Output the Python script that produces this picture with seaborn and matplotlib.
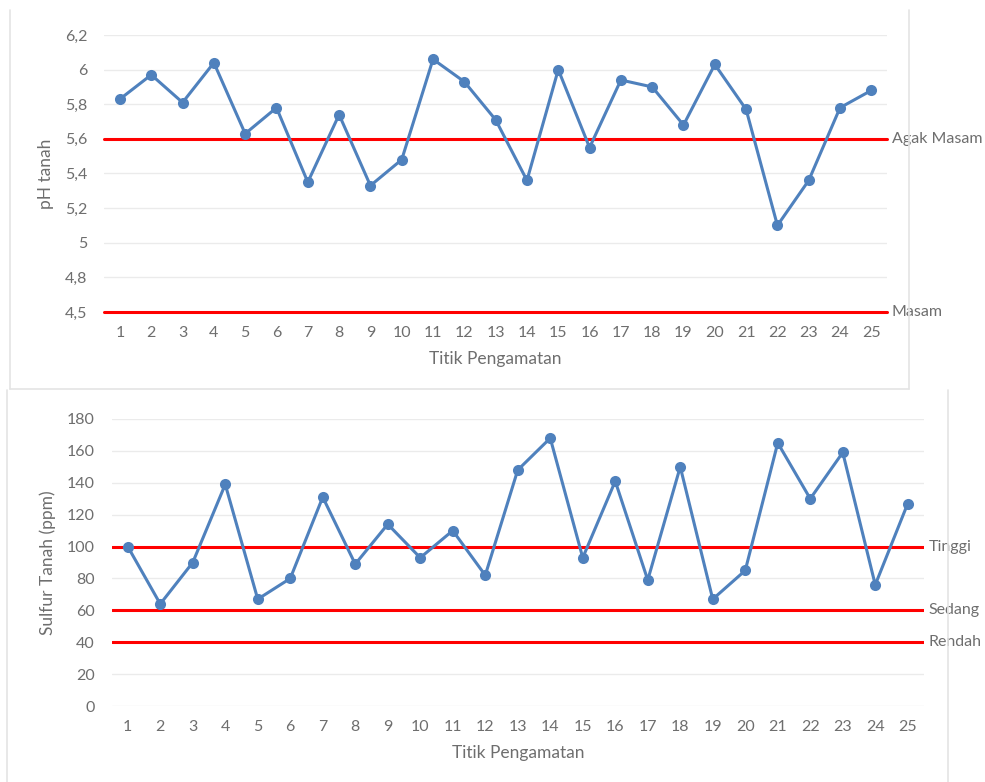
import numpy as np
import pandas as pd
import matplotlib
matplotlib.use("Agg")
import matplotlib.pyplot as plt
import matplotlib.transforms as mtransforms
import seaborn as sns

# Observation points
titik = list(range(1, 26))

# Soil pH per observation point
ph_tanah = [5.83, 5.97, 5.81, 6.04, 5.63, 5.78, 5.35, 5.74, 5.33, 5.48,
            6.06, 5.93, 5.71, 5.36, 6.00, 5.55, 5.94, 5.90, 5.68, 6.03,
            5.77, 5.10, 5.36, 5.78, 5.88]

# Soil sulfur (ppm) per observation point
sulfur_tanah = [100, 64, 90, 139, 67, 80, 131, 89, 114, 93,
                110, 82, 148, 168, 93, 141, 79, 150, 67, 85,
                165, 130, 159, 76, 127]

# Threshold reference lines
ph_batas = [5.6, 4.5]
ph_batas_label = ["Agak Masam", "Masam"]
s_batas = [100, 60, 40]
s_batas_label = ["Tinggi", "Sedang", "Rendah"]

# Axis ticks
ph_ticks = [4.5, 4.8, 5.0, 5.2, 5.4, 5.6, 5.8, 6.0, 6.2]
ph_ticklabels = ["4,5", "4,8", "5", "5,2", "5,4", "5,6", "5,8", "6", "6,2"]
s_ticks = [0, 20, 40, 60, 80, 100, 120, 140, 160, 180]

df_ph = pd.DataFrame({"Titik": titik, "pH": ph_tanah})
df_s = pd.DataFrame({"Titik": titik, "Sulfur": sulfur_tanah})

sns.set_theme(style="white")
plt.rcParams["font.family"] = ["Lato", "DejaVu Sans"]

TXT = "#6e6e6e"
BLUE = "#4F81BD"
RED = "#FF0000"
GRID = "#ebebeb"
BORDER = "#e4e4e4"
TICK_FS = 11.5
LAB_FS = 12.5
NOTE_FS = 11.5

W, H = 985, 782
fig = plt.figure(figsize=(W / 100, H / 100), dpi=100)
fig.patch.set_facecolor("white")


def fx(px):
    return px / W


def fy(py):
    return 1 - py / H


# Chart-area borders
fig.add_artist(plt.Line2D([fx(10), fx(10)], [fy(10), fy(389)], color=BORDER, lw=1.2))
fig.add_artist(plt.Line2D([fx(908.5), fx(908.5)], [fy(10), fy(389)], color=BORDER, lw=1.2))
fig.add_artist(plt.Line2D([fx(10), fx(908.5)], [fy(389), fy(389)], color=BORDER, lw=1.2))
fig.add_artist(plt.Line2D([fx(7), fx(7)], [fy(390), fy(782)], color=BORDER, lw=1.2))
fig.add_artist(plt.Line2D([fx(948), fx(948)], [fy(390), fy(782)], color=BORDER, lw=1.2))


def style_axes(ax):
    for sp in ax.spines.values():
        sp.set_visible(False)
    ax.tick_params(axis="both", length=0, labelsize=TICK_FS, labelcolor=TXT)
    ax.grid(axis="y", color=GRID, lw=1)
    ax.grid(axis="x", visible=False)
    ax.set_axisbelow(True)
    ax.set_facecolor("none")


# ---- pH chart ----
ax1 = fig.add_axes([fx(104.3), fy(312), fx(887) - fx(104.3), fy(35) - fy(312)])


def ph_fwd(y):
    y = np.asarray(y, dtype=float)
    return np.where(y >= 4.8, y, 4.8 - (4.8 - y) * 2.0 / 3.0)


def ph_inv(t):
    t = np.asarray(t, dtype=float)
    return np.where(t >= 4.8, t, 4.8 - (4.8 - t) * 1.5)


ax1.set_yscale("function", functions=(ph_fwd, ph_inv))
style_axes(ax1)
for v in ph_batas:
    ax1.axhline(v, color=RED, lw=2.2, zorder=2, clip_on=False)
sns.lineplot(data=df_ph, x="Titik", y="pH", ax=ax1, color=BLUE, lw=2.2,
             marker="o", markersize=8, markeredgewidth=0, zorder=3)
ax1.set_xlim(0.5, 25.5)
ax1.set_ylim(4.5, 6.2)
ax1.set_xticks(titik)
ax1.set_xticklabels([str(t) for t in titik])
ax1.set_yticks(ph_ticks)
ax1.set_yticklabels(ph_ticklabels)
ax1.yaxis.set_minor_locator(matplotlib.ticker.NullLocator())
ax1.tick_params(axis="x", pad=10)
ax1.tick_params(axis="y", pad=12)
ax1.set_xlabel("Titik Pengamatan", color=TXT, fontsize=LAB_FS, labelpad=8)
ax1.set_ylabel("pH tanah", color=TXT, fontsize=LAB_FS, labelpad=8)
tr1 = mtransforms.blended_transform_factory(ax1.transAxes, ax1.transData)
for v, lab in zip(ph_batas, ph_batas_label):
    ax1.annotate(lab, xy=(1, v), xycoords=tr1, xytext=(3.5, 0), textcoords="offset points",
                 va="center", ha="left", color=TXT, fontsize=NOTE_FS, annotation_clip=False)

# ---- Sulfur chart ----
ax2 = fig.add_axes([fx(111.5), fy(706), fx(924) - fx(111.5), fy(419) - fy(706)])
style_axes(ax2)
for v in s_batas:
    ax2.axhline(v, color=RED, lw=2.2, zorder=2)
sns.lineplot(data=df_s, x="Titik", y="Sulfur", ax=ax2, color=BLUE, lw=2.2,
             marker="o", markersize=8, markeredgewidth=0, zorder=3)
ax2.set_xlim(0.5, 25.5)
ax2.set_ylim(0, 180)
ax2.set_xticks(titik)
ax2.set_xticklabels([str(t) for t in titik])
ax2.set_yticks(s_ticks)
ax2.tick_params(axis="x", pad=10)
ax2.tick_params(axis="y", pad=12)
ax2.set_xlabel("Titik Pengamatan", color=TXT, fontsize=LAB_FS, labelpad=8)
ax2.set_ylabel("Sulfur Tanah (ppm)", color=TXT, fontsize=LAB_FS, labelpad=8)
tr2 = mtransforms.blended_transform_factory(ax2.transAxes, ax2.transData)
for v, lab in zip(s_batas, s_batas_label):
    ax2.annotate(lab, xy=(1, v), xycoords=tr2, xytext=(3.5, 0), textcoords="offset points",
                 va="center", ha="left", color=TXT, fontsize=NOTE_FS, annotation_clip=False)

fig.savefig("out.png", dpi=100, facecolor="white")
